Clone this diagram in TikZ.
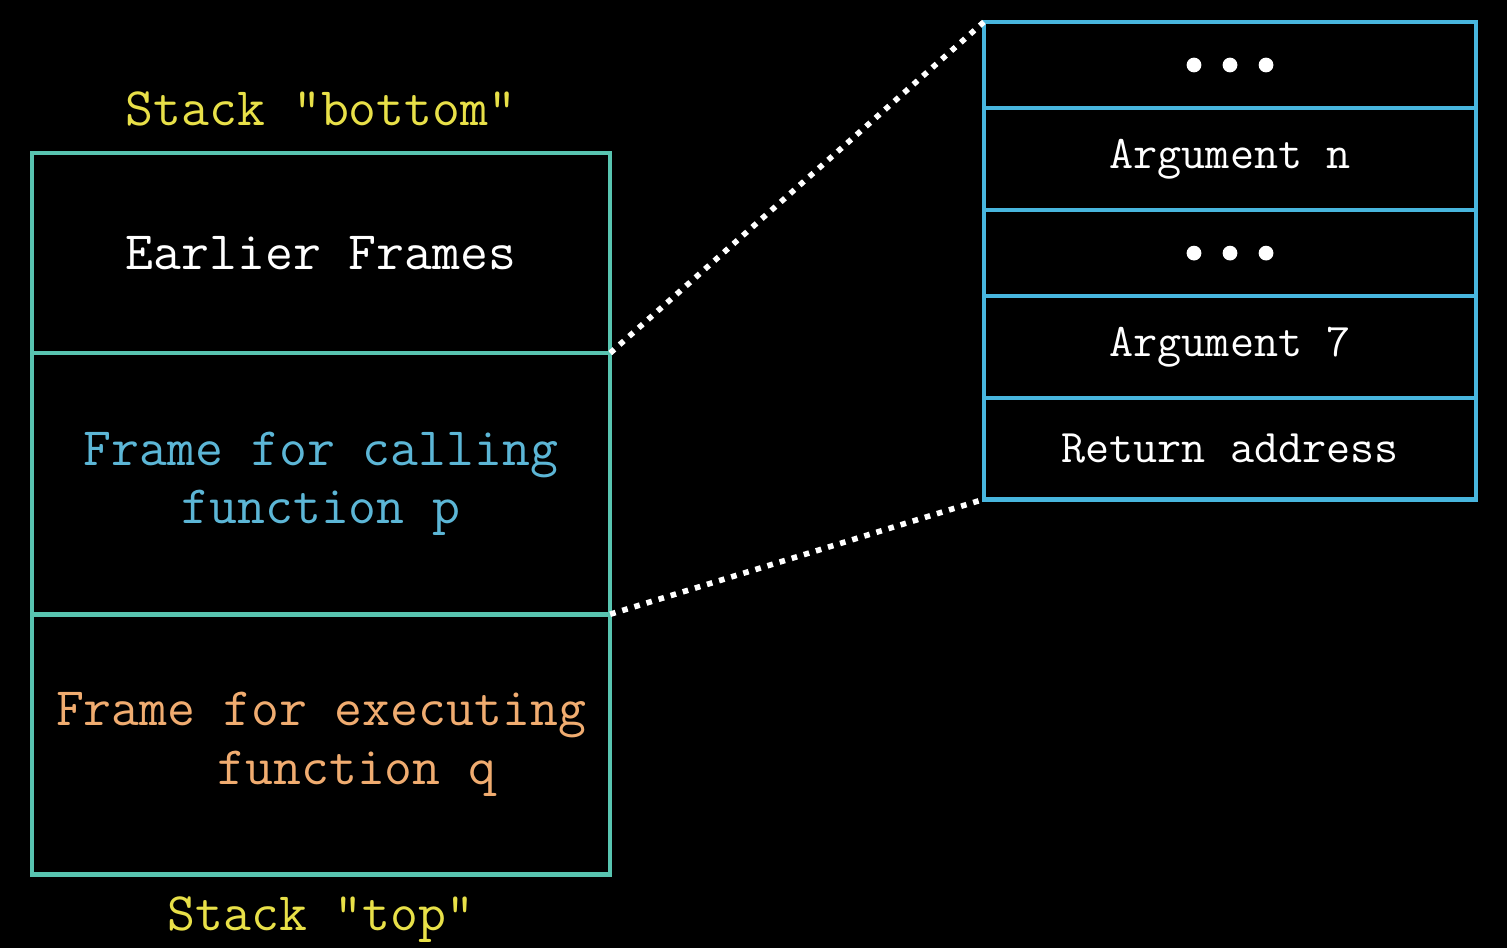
\documentclass[tikz,border=0pt]{standalone}
\usepackage{fontspec}
\usetikzlibrary{positioning}
\definecolor{frameteal}{RGB}{88,196,176}
\definecolor{argblue}{RGB}{72,182,222}
\definecolor{callblue}{RGB}{92,182,214}
\definecolor{execorange}{RGB}{240,172,112}
\definecolor{labelyellow}{RGB}{232,224,72}
\begin{document}
\begin{tikzpicture}[x=0.01cm, y=-0.01cm,
framecell/.style={rectangle, draw=frameteal, line width=1.3pt, outer sep=0pt, inner sep=0pt,
  minimum width=5.78cm, align=center, text=white, font=\ttfamily\fontsize{15.4}{16.6}\selectfont},
argcell/.style={rectangle, draw=argblue, line width=1.3pt, outer sep=0pt, inner sep=0pt,
  minimum width=4.92cm, align=center, text=white, font=\ttfamily\fontsize{13.3}{15}\selectfont},
stacklabel/.style={inner sep=0pt, text=labelyellow, font=\ttfamily\fontsize{15.4}{16}\selectfont},
zoomline/.style={white, dotted, line width=1.6pt},
]
\fill[black] (0,0) rectangle (1507,948);

% the stack
\node[framecell, minimum height=2cm]    (earlier)   at (321,253) {Earlier Frames};
\node[framecell, minimum height=2.61cm, text=callblue, below=0pt of earlier] (calling)
      {Frame for calling\\function p};
\node[framecell, minimum height=2.60cm, text=execorange, below=0pt of calling] (executing)
      {Frame for executing\\\hspace*{0.72cm}function q};

\node[stacklabel, above=0.26cm of earlier]  (bottom) {Stack "bottom"};
\node[stacklabel, below=0.22cm of executing] (top)    {Stack "top"};

% zoomed frame of p
\node[argcell, minimum height=0.86cm]                    (dotsa) at (1230,65) {};
\node[argcell, minimum height=1.02cm, below=0pt of dotsa] (argn)  {Argument n};
\node[argcell, minimum height=0.86cm, below=0pt of argn]  (dotsb) {};
\node[argcell, minimum height=1.02cm, below=0pt of dotsb] (arg7)  {Argument 7};
\node[argcell, minimum height=1.01cm, below=0pt of arg7]  (ret)   {Return address};

\foreach \d in {dotsa,dotsb}
  \foreach \dx in {-0.36,0,0.36}
    \fill[white] ([xshift=\dx cm]\d.center) circle (2.1pt);

\draw[zoomline] (earlier.south east) -- (dotsa.north west);
\draw[zoomline] (calling.south east) -- (ret.south west);
\end{tikzpicture}
\end{document}
